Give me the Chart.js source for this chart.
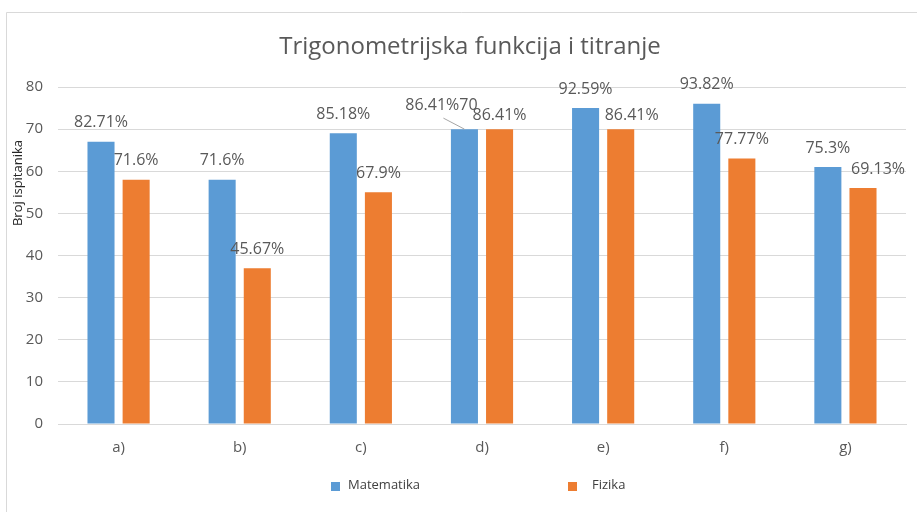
<!DOCTYPE html>
<html>
<head>
<meta charset="utf-8">
<script src="https://cdn.jsdelivr.net/npm/chart.js@4/dist/chart.umd.min.js"></script>
<style>
  html, body { margin: 0; padding: 0; background: #fff; }
  #wrap { width: 917px; height: 512px; position: relative; }
</style>
</head>
<body>
<div id="wrap"><canvas id="c" width="917" height="512"></canvas></div>
<script>
const categories = ["a)", "b)", "c)", "d)", "e)", "f)", "g)"];
const matematika = [67, 58, 69, 70, 75, 76, 61];
const fizika = [58, 37, 55, 70, 70, 63, 56];
const matematikaLabels = ["82.71%", "71.6%", "85.18%", "86.41%70", "92.59%", "93.82%", "75.3%"];
const fizikaLabels = ["71.6%", "45.67%", "67.9%", "86.41%", "86.41%", "77.77%", "69.13%"];
const yTicks = [0, 10, 20, 30, 40, 50, 60, 70, 80];

const TEXT = "#595959";
const FONT = "'Open Sans', 'Liberation Sans', sans-serif";

// label layout tweaks (manual label moves seen in the original)
const labelShift = {
  "0-3": { dx: -23, dy: -5, leader: true },
  "1-3": { dx: 0, dy: 5 },
  "1-4": { dx: 11, dy: 5 },
  "1-6": { dx: 15, dy: 0 }
};

const decor = {
  id: "decor",
  beforeDraw(chart) {
    const ctx = chart.ctx;
    ctx.save();
    ctx.fillStyle = "#fff";
    ctx.fillRect(0, 0, chart.width, chart.height);
    ctx.strokeStyle = "#d9d9d9";
    ctx.lineWidth = 1;
    ctx.beginPath();
    ctx.moveTo(6.5, chart.height);
    ctx.lineTo(6.5, 12.5);
    ctx.lineTo(chart.width, 12.5);
    ctx.stroke();
    ctx.restore();
  },
  afterDraw(chart) {
    const ctx = chart.ctx;
    ctx.save();
    // title
    ctx.fillStyle = TEXT;
    ctx.font = "24px " + FONT;
    ctx.textAlign = "center";
    ctx.textBaseline = "middle";
    ctx.fillText("Trigonometrijska funkcija i titranje", 470, 47);
    // y title
    ctx.save();
    ctx.translate(18, 183);
    ctx.rotate(-Math.PI / 2);
    ctx.fillStyle = "#262626";
    ctx.font = "13px " + FONT;
    ctx.fillText("Broj ispitanika", 0, 0);
    ctx.restore();
    // data labels
    ctx.font = "16px " + FONT;
    ctx.fillStyle = TEXT;
    const lists = [matematikaLabels, fizikaLabels];
    chart.data.datasets.forEach((ds, i) => {
      const meta = chart.getDatasetMeta(i);
      meta.data.forEach((el, j) => {
        const s = labelShift[i + "-" + j] || { dx: 0, dy: 0 };
        const x = el.x + s.dx;
        const y = el.y - 19 + s.dy;
        ctx.fillText(lists[i][j], x, y);
        if (s.leader) {
          ctx.strokeStyle = "#a6a6a6";
          ctx.lineWidth = 1;
          ctx.beginPath();
          ctx.moveTo(x + 2, y + 13);
          ctx.lineTo(el.x, el.y);
          ctx.stroke();
        }
      });
    });
    // legend
    const items = [
      { label: chart.data.datasets[0].label, color: chart.data.datasets[0].backgroundColor, bx: 331, tx: 348 },
      { label: chart.data.datasets[1].label, color: chart.data.datasets[1].backgroundColor, bx: 568, tx: 592 }
    ];
    ctx.font = "13px " + FONT;
    ctx.textAlign = "left";
    items.forEach(it => {
      ctx.fillStyle = it.color;
      ctx.fillRect(it.bx, 482, 9, 9);
      ctx.fillStyle = "#404040";
      ctx.fillText(it.label, it.tx, 485);
    });
    ctx.restore();
  }
};

new Chart(document.getElementById("c"), {
  type: "bar",
  data: {
    labels: categories,
    datasets: [
      { label: "Matematika", data: matematika, backgroundColor: "#5B9BD5" },
      { label: "Fizika", data: fizika, backgroundColor: "#ED7D31" }
    ]
  },
  options: {
    responsive: false,
    animation: false,
    devicePixelRatio: 1,
    layout: { padding: { left: 0, right: 11, top: 87, bottom: 0 } },
    categoryPercentage: 0.58,
    barPercentage: 0.77,
    plugins: { legend: { display: false }, title: { display: false }, tooltip: { enabled: false } },
    scales: {
      x: {
        grid: { display: false, drawTicks: false },
        border: { display: true, color: "#d9d9d9" },
        ticks: { color: TEXT, font: { size: 15, family: FONT }, padding: 15 },
        afterFit(scale) { scale.height = 88; }
      },
      y: {
        min: 0, max: 80,
        afterBuildTicks(scale) { scale.ticks = yTicks.map(v => ({ value: v })); },
        grid: { color: "#d9d9d9", drawTicks: false },
        border: { display: false },
        ticks: { color: TEXT, font: { size: 15, family: FONT }, padding: 15 },
        afterFit(scale) { scale.width = 58; }
      }
    }
  },
  plugins: [decor]
});
</script>
</body>
</html>
